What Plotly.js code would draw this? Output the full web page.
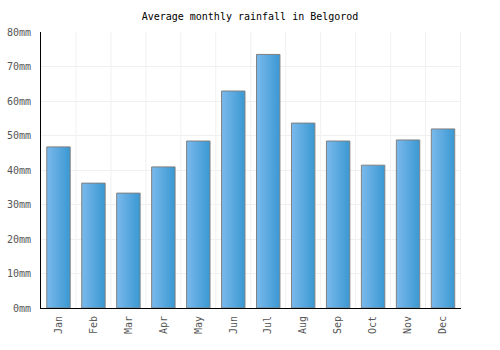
<!DOCTYPE html>
<html><head><meta charset="utf-8">
<script src="https://cdn.plot.ly/plotly-3.0.1.min.js"></script>
<style>html,body{margin:0;padding:0;background:#fff}</style>
</head><body>
<div id="chart" style="width:500px;height:350px"></div>
<script>
const months = ["Jan","Feb","Mar","Apr","May","Jun","Jul","Aug","Sep","Oct","Nov","Dec"];
const rainfall = [46.7, 36.2, 33.3, 40.9, 48.4, 62.9, 73.5, 53.6, 48.4, 41.4, 48.7, 51.9];
const yTicks = [0,10,20,30,40,50,60,70,80];
const yTickLabels = ["0mm","10mm","20mm","30mm","40mm","50mm","60mm","70mm","80mm"];

const font = "DejaVu Sans Mono, monospace";
Plotly.newPlot("chart", [{
  type: "bar", x: months, y: rainfall,
  marker: {color: "#5aa9e2", line: {color: "#808080", width: 1}},
  hoverinfo: "none"
}], {
  width: 500, height: 350,
  margin: {l: 41, r: 39, t: 32, b: 42, autoexpand: false},
  title: {text: "Average monthly rainfall in Belgorod", font: {family: font, size: 10, color: "#000"}, x: 0.5, xanchor: "center", y: 0.952, yanchor: "middle"},
  bargap: 0.33,
  plot_bgcolor: "#fff", paper_bgcolor: "#fff",
  xaxis: {
    showgrid: false, showline: true, linecolor: "#000", linewidth: 1,
    ticks: "outside", ticklen: 3, tickcolor: "rgba(0,0,0,0)",
    tickangle: -90, tickfont: {family: font, size: 10, color: "#555"},
    automargin: false, fixedrange: true
  },
  yaxis: {
    range: [0, 80], tickmode: "array", tickvals: yTicks, ticktext: yTickLabels,
    showgrid: true, gridcolor: "#f0f0f0", gridwidth: 1,
    showline: true, linecolor: "#000", linewidth: 1, zeroline: false,
    ticks: "outside", ticklen: 7, tickcolor: "rgba(0,0,0,0)",
    tickfont: {family: font, size: 10, color: "#555"},
    automargin: false, fixedrange: true
  },
  shapes: months.map((m, i) => ({
    type: "line", xref: "x", yref: "paper", x0: i + 0.5, x1: i + 0.5, y0: 0, y1: 1,
    line: {color: "#f0f0f0", width: 1}, layer: "below"
  })),
  showlegend: false
}, {displayModeBar: false, staticPlot: true}).then(gd => {
  const svg = gd.querySelector("svg.main-svg");
  const ns = "http://www.w3.org/2000/svg";
  let defs = svg.querySelector("defs");
  if (!defs) { defs = document.createElementNS(ns, "defs"); svg.insertBefore(defs, svg.firstChild); }
  const lg = document.createElementNS(ns, "linearGradient");
  lg.setAttribute("id", "barGrad");
  lg.setAttribute("x1", "0"); lg.setAttribute("y1", "0");
  lg.setAttribute("x2", "1"); lg.setAttribute("y2", "0");
  [["0%", "#7ab9ec"], ["100%", "#3a98d2"]].forEach(([o, c]) => {
    const s = document.createElementNS(ns, "stop");
    s.setAttribute("offset", o); s.setAttribute("stop-color", c);
    lg.appendChild(s);
  });
  defs.appendChild(lg);
  gd.querySelectorAll(".bars .point path").forEach(p => {
    p.style.fill = "url(#barGrad)";
    p.style.fillOpacity = 1;
  });
});
</script>
</body></html>
